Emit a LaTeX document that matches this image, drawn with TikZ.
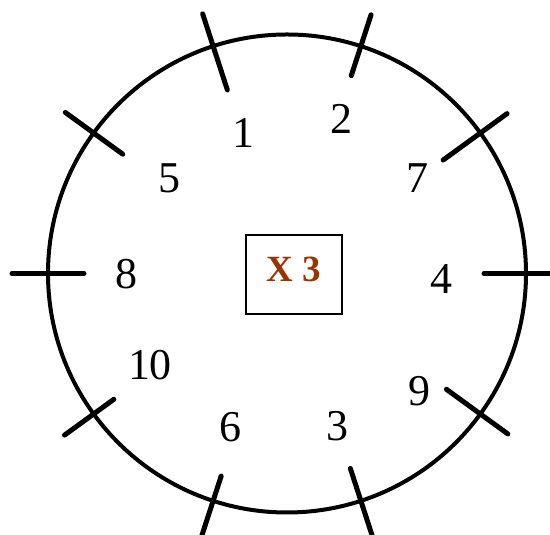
\documentclass[tikz,border=0pt]{standalone}
\usepackage{fontspec}
\setmainfont{Liberation Serif}
\usetikzlibrary{calc}
\definecolor{xbrown}{HTML}{993300}
\begin{document}
\begin{tikzpicture}[x=1pt,y=1pt,
  tickline/.style={line width=5pt,line cap=round},
  num/.style={inner sep=0pt,anchor=center,font=\fontsize{44}{50}\selectfont},
  boxnode/.style={draw,line width=1.3pt,minimum width=96pt,minimum height=79pt,inner sep=0pt},
  xlabel/.style={inner sep=0pt,text=xbrown,font=\fontsize{37}{42}\selectfont\bfseries}]
\useasboundingbox (0,0) rectangle (550,535);
\clip (0,0) rectangle (550,535);
\coordinate (c) at (287,261.5);
\draw[line width=4pt] (c) circle[radius=239];
\foreach \a/\ri/\ro in {0/197/275,36/193/272,72/208/272,108/193/273,144/203/274,
  180/203/275,216/214/275,252/213/275,288/205/275,324/197/273}{
  \draw[tickline] ($(c)+(\a:\ri)$) -- ($(c)+(\a:\ro)$);
}
\node[num] (n1) at (243.5,401.6) {1};
\node[num] (n2) at (341,415.6) {2};
\node[num] (n5) at (169.5,356.7) {5};
\node[num] (n7) at (417,356.5) {7};
\node[num] (n8) at (126,261) {8};
\node[num] (n4) at (441,256) {4};
\node[num] (n10) at (150,170.3) {10};
\node[num] (n9) at (419.7,144) {9};
\node[num] (n6) at (230,107.6) {6};
\node[num] (n3) at (337,108.5) {3};
\node[boxnode] (box) at (294,260.5) {};
\node[xlabel] (x3) at (293.7,265.4) {X 3};
\end{tikzpicture}
\end{document}
